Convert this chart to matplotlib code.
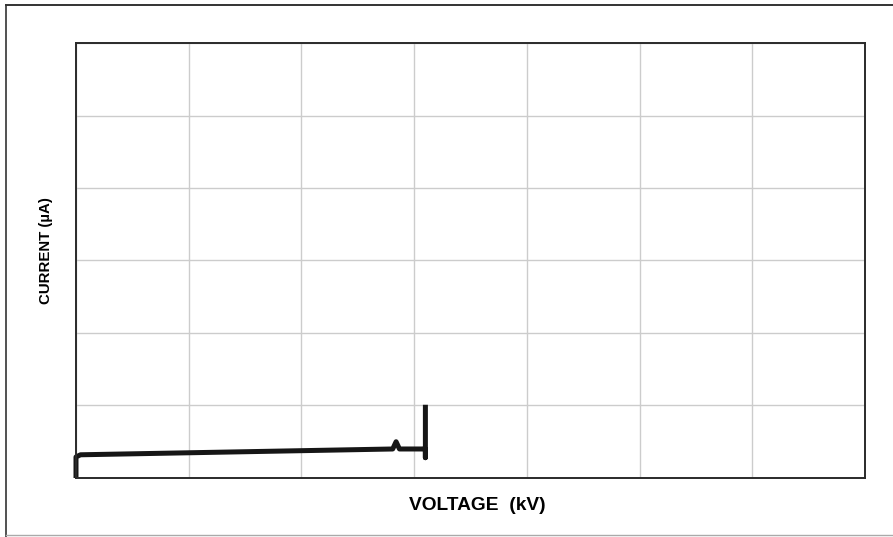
import matplotlib
matplotlib.use("Agg")
import matplotlib.pyplot as plt
from matplotlib.lines import Line2D
import numpy as np

# trace (x in grid columns, y in grid rows)
voltage = [0.0, 0.0, 0.04, 2.81, 2.84, 2.87, 3.05, 3.10, 3.10, 3.10]
current = [0.0, 0.29, 0.32, 0.40, 0.50, 0.40, 0.40, 0.40, 0.28, 1.01]
n_cols = 7
n_rows = 6
x_label = "VOLTAGE  (kV)"
y_label = "CURRENT (\u00b5A)"

plt.rcParams['font.family'] = ['Liberation Sans', 'DejaVu Sans']

fig = plt.figure(figsize=(8.93, 5.37), dpi=100)
ax = fig.add_axes([0.0851, 0.1099, 0.8835, 0.81])

ax.plot(voltage, current, color="#161616", linewidth=3.6, solid_joinstyle="round",
        solid_capstyle="butt", clip_on=False)

ax.set_xlim(0, n_cols)
ax.set_ylim(0, n_rows)
ax.set_xticks(np.arange(0, n_cols + 1))
ax.set_yticks(np.arange(0, n_rows + 1))
ax.tick_params(length=0, labelbottom=False, labelleft=False)
ax.grid(True, color="#cccccc", linewidth=1.0)
for s in ax.spines.values():
    s.set_color("#2a2a2a")
    s.set_linewidth(1.4)

fig.text(0.535, 0.058, x_label, ha="center", va="center", fontsize=13.8, fontweight="bold")
fig.text(0.052, 0.534, y_label, ha="center", va="center", rotation=90,
         fontsize=10.8, fontweight="bold")

# outer frame of the scanned page
fig.add_artist(Line2D([0.007, 0.007], [0.0, 0.991], color="#333333", linewidth=1.2))
fig.add_artist(Line2D([0.007, 1.0], [0.991, 0.991], color="#333333", linewidth=1.4))
fig.add_artist(Line2D([0.007, 1.0], [0.004, 0.004], color="#aaaaaa", linewidth=1.0))

fig.savefig("out.png", dpi=100)
